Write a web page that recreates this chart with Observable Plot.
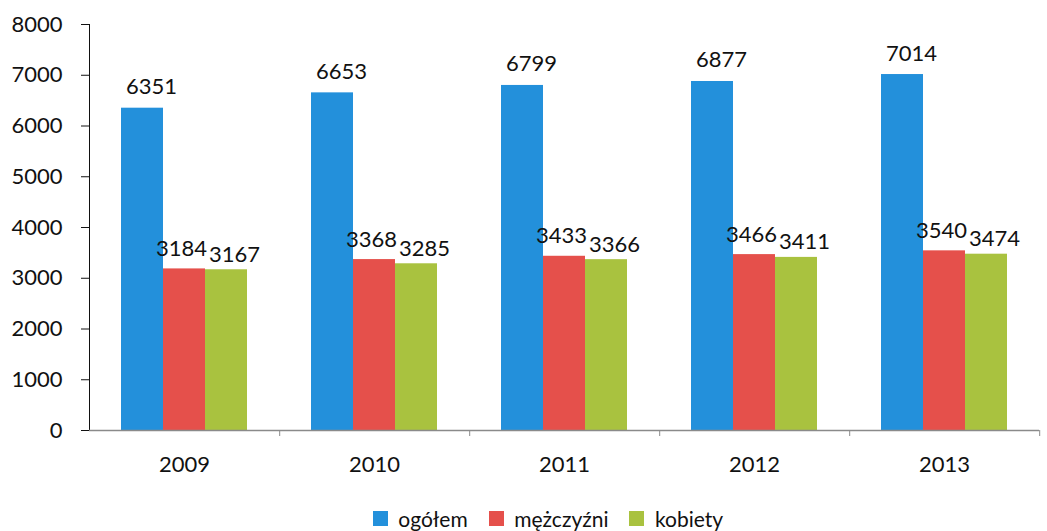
<!DOCTYPE html>
<html><head><meta charset="utf-8">
<script src="https://cdn.jsdelivr.net/npm/d3@7"></script>
<script src="https://cdn.jsdelivr.net/npm/@observablehq/plot@0.6"></script>
<style>
body{margin:0;background:#fff;font-family:Lato,sans-serif;}
#chart{width:1047px;}
</style>
</head><body><div id="chart"></div>
<script>
const years = ["2009", "2010", "2011", "2012", "2013"];
const series = ["ogółem", "mężczyźni", "kobiety"];
const ogolem = [6351, 6653, 6799, 6877, 7014];
const mezczyzni = [3184, 3368, 3433, 3466, 3540];
const kobiety = [3167, 3285, 3366, 3411, 3474];
const yTicks = [0, 1000, 2000, 3000, 4000, 5000, 6000, 7000, 8000];
const colors = ["#2390db", "#e5504b", "#a9c23f"];

const values = [ogolem, mezczyzni, kobiety];
const data = years.flatMap((year, i) => series.map((s, j) => ({year, series: s, value: values[j][i]})));

const W = 1047, H = 490, mL = 88, mR = 7, mT = 24, mB = 60;
const facetStep = (W - mL - mR) / years.length;
const labelDx = {"ogółem": 9, "mężczyźni": -3, "kobiety": 8};
const labelDy = {"ogółem": -14, "mężczyźni": -13, "kobiety": -8};

const chart = Plot.plot({
  width: W, height: H,
  marginLeft: mL, marginRight: mR, marginTop: mT, marginBottom: mB,
  style: {fontFamily: "Lato, sans-serif", fontSize: "22px", color: "#111", background: "#fff"},
  fx: {domain: years, padding: 0, label: null, axis: null},
  x: {domain: series, paddingInner: 0, paddingOuter: 0.71, axis: null},
  y: {domain: [0, 8000], label: null, ticks: yTicks, tickSize: 8, tickPadding: 19, line: true, tickFormat: d => String(d)},
  color: {domain: series, range: colors},
  marks: [
    Plot.barY(data, {fx: "year", x: "series", y: "value", fill: "series", inset: 0}),
    Plot.ruleY([0], {stroke: "#8a8a8a", strokeWidth: 1.5}),
    ...series.map(s => Plot.text(data.filter(d => d.series === s), {
      fx: "year", x: "series", y: "value", text: d => String(d.value),
      lineAnchor: "bottom", dx: labelDx[s], dy: labelDy[s], fill: "#111", fontSize: 22
    })),
    Plot.axisFx({anchor: "bottom", tickSize: 0, tickPadding: 26, fontSize: 22, fill: "#111", label: null}),
    Plot.axisFx({anchor: "bottom", tickSize: 6, text: null, dx: facetStep / 2, stroke: "#8a8a8a", label: null})
  ]
});
document.getElementById("chart").appendChild(chart);

const legend = Plot.legend({
  color: {domain: series, range: colors},
  swatchSize: 15,
  style: {fontFamily: "Lato, sans-serif", fontSize: "21px", color: "#111"}
});
legend.style.justifyContent = "center";
legend.style.width = (W - 70) + "px";
legend.style.marginLeft = "0";
legend.style.paddingLeft = "70px";
legend.style.marginTop = "12px";
document.getElementById("chart").appendChild(legend);
</script>
</body></html>
